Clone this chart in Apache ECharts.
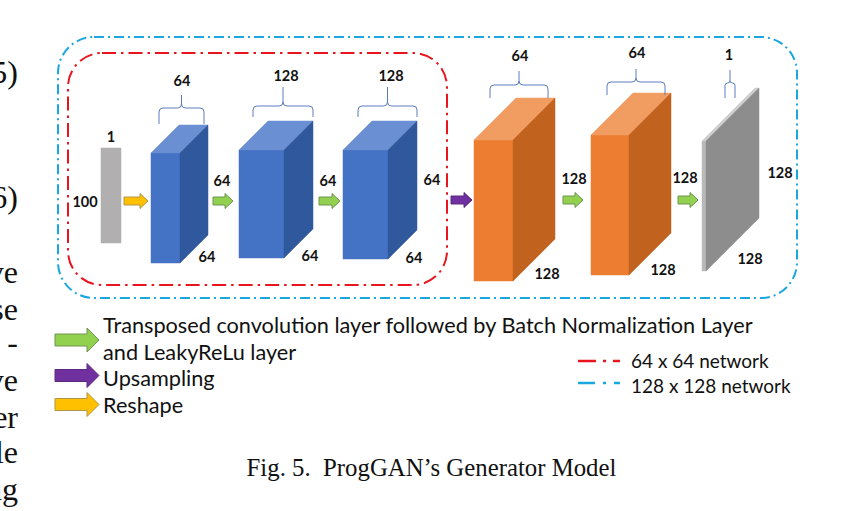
<!DOCTYPE html>
<html><head><meta charset="utf-8">
<script src="https://cdn.jsdelivr.net/npm/echarts@6/dist/echarts.min.js"></script>
<style>html,body{margin:0;padding:0;background:#fff;overflow:hidden}#c{width:855px;height:511px}</style>
</head><body><div id="c"></div>
<script>
// ---------------- content / data ----------------
const layerNames    = ['Input', 'Conv 1', 'Conv 2', 'Conv 3', 'Conv 4', 'Conv 5', 'Output'];
const channelLabels = ['1', '64', '128', '128', '64', '64', '1'];
const sideLabels    = ['100', '64', '64', '64', '128', '128', '128'];
const depthLabels   = ['', '64', '64', '64', '128', '128', '128'];
const blockKind     = ['input', 'blue', 'blue', 'blue', 'orange', 'orange', 'output'];
const arrowTypes    = ['reshape', 'conv', 'conv', 'upsample', 'conv', 'conv'];
const legendLabels  = ['Transposed convolution layer followed by Batch Normalization Layer', 'and LeakyReLu layer', 'Upsampling', 'Reshape'];
const legendArrowTypes = ['conv', 'upsample', 'reshape'];
const networkLabels = ['64 x 64 network', '128 x 128 network'];
const networkTypes  = ['net64', 'net128'];
const captionText   = 'Fig. 5.\u00a0\u00a0ProgGAN\u2019s Generator Model';
const marginText    = ['5)', '6)', 've', 'se', '-', 've', 'er', 'le', 'ng'];

// ---------------- layout (axis units of a 855 x 511 plane) ----------------
const blockX = [101, 151, 239, 343, 474, 591, 702];
const blockY = [148, 153, 150, 150, 140, 135, 141];
const blockW = [20, 29, 45, 45, 39, 38, 4];
const blockH = [95, 110, 108, 109, 141, 140, 130];
const blockD = [0, 28, 29, 29, 42, 42, 53];

const braceX1 = [159, 253, 358, 490, 607, 725];
const braceX2 = [204, 313, 417, 548, 665, 735];
const braceYb = [124, 117, 117, 98, 95, 98];
const braceYm = [108, 106, 106, 85, 82, 83];
const braceYt = [95, 87, 87, 71, 69, 70];

const topLX = [111, 182, 286, 391, 520, 637, 729];
const topLY = [136, 80, 75, 75, 55, 52, 54];
const sideLX = [85, 222, 328, 432, 574, 685, 780];
const sideLY = [201, 180, 180, 179, 178, 177, 172];
const depthLX = [0, 207, 310, 414, 547, 663, 750];
const depthLY = [0, 256, 255, 257, 273, 269, 258];

const arrowX1 = [124, 213, 319, 451, 563, 678];
const arrowX2 = [148, 233, 340, 472, 583, 698];
const arrowY  = [201, 201, 201, 200, 200, 200];

const frameX1 = [68, 58], frameY1 = [53, 37], frameX2 = [447, 797], frameY2 = [285, 298], frameR = [34, 36];
const frameTypes = ['net64', 'net128'];

const legendTextY = [325, 352, 378, 405];
const legendArrowY = [340, 375.5, 404.5];
const networkY = [361, 383];
const networkTextY = [360, 385];
const marginY = [72, 197, 271.5, 308.5, 342, 379.5, 416.5, 451.5, 488.5];

// ---------------- styles ----------------
const palette = {
  input:  { front: '#b1afaf' },
  blue:   { front: '#4472c4', top: '#6a8fd2', side: '#30589c' },
  orange: { front: '#ed7d31', top: '#f19d62', side: '#c1631f' },
  output: { front: '#b9b9b9', top: '#cdcdcd', side: '#8d8d8d' }
};
const arrowStyle = {
  conv:     { fill: '#92d050', stroke: '#6e9650' },
  upsample: { fill: '#7030a0', stroke: '#5a2a80' },
  reshape:  { fill: '#ffc000', stroke: '#b0954a' }
};
const netStyle = {
  net64:  { stroke: '#e8141e', dash: [14, 5, 2.5, 5], legendDash: [18, 7, 3, 7] },
  net128: { stroke: '#1aa7e0', dash: [10, 4, 2, 4], legendDash: [17, 8, 3, 8] }
};
const labelFont = 'bold 14.5px Lato';
const sansFont = 'Lato';

function arrowPoints(api, x1, x2, yc, sh, hh, hl) {
  return [[x1, yc - sh], [x2 - hl, yc - sh], [x2 - hl, yc - hh], [x2, yc], [x2 - hl, yc + hh], [x2 - hl, yc + sh], [x1, yc + sh]]
    .map(p => api.coord(p));
}
function txt(api, text, x, y, font, align, color) {
  const p = api.coord([x, y]);
  return { type: 'text', style: { text: text, x: p[0], y: p[1], font: font, fill: color || '#111', textAlign: align || 'center', textVerticalAlign: 'middle' } };
}

const chart = echarts.init(document.getElementById('c'), null, { renderer: 'svg', width: 855, height: 511 });

const series = [
  { // network frames
    type: 'custom', data: frameTypes.map((t, i) => [frameX1[i], frameY1[i]]),
    renderItem: function (params, api) {
      const i = params.dataIndex, s = netStyle[frameTypes[i]];
      const a = api.coord([frameX1[i], frameY1[i]]), b = api.coord([frameX2[i], frameY2[i]]);
      return { type: 'rect', shape: { x: a[0], y: a[1], width: b[0] - a[0], height: b[1] - a[1], r: frameR[i] },
        style: { fill: 'none', stroke: s.stroke, lineWidth: 2, lineDash: s.dash } };
    }
  },
  { // layer blocks
    type: 'custom', data: layerNames.map((n, i) => [blockX[i], blockY[i]]),
    renderItem: function (params, api) {
      const i = params.dataIndex, c = palette[blockKind[i]];
      const x = blockX[i], y = blockY[i], w = blockW[i], h = blockH[i], d = blockD[i];
      const P = (a, b) => api.coord([a, b]);
      const ch = [{ type: 'polygon', shape: { points: [P(x, y), P(x + w, y), P(x + w, y + h), P(x, y + h)] }, style: { fill: c.front, stroke: c.front, lineWidth: 0.5 } }];
      if (d > 0) {
        ch.push({ type: 'polygon', shape: { points: [P(x, y), P(x + d, y - d), P(x + w + d, y - d), P(x + w, y)] }, style: { fill: c.top, stroke: c.top, lineWidth: 0.5 } });
        ch.push({ type: 'polygon', shape: { points: [P(x + w, y), P(x + w + d, y - d), P(x + w + d, y + h - d), P(x + w, y + h)] }, style: { fill: c.side, stroke: c.side, lineWidth: 0.5 } });
      }
      return { type: 'group', children: ch };
    }
  },
  { // channel braces
    type: 'custom', data: braceX1.map((x, i) => [x, braceYb[i]]),
    renderItem: function (params, api) {
      const i = params.dataIndex;
      const x1 = braceX1[i], x2 = braceX2[i], xc = (x1 + x2) / 2, yb = braceYb[i], ym = braceYm[i], yt = braceYt[i];
      const r = Math.min(4, (x2 - x1) / 4);
      const P = (a, b) => api.coord([a, b]).join(' ');
      const d = 'M' + P(x1, yb) + ' L' + P(x1, ym + r) + ' Q' + P(x1, ym) + ' ' + P(x1 + r, ym) +
        ' L' + P(xc - r, ym) + ' Q' + P(xc, ym) + ' ' + P(xc, ym - r) + ' L' + P(xc, yt) +
        ' M' + P(xc, ym - r) + ' Q' + P(xc, ym) + ' ' + P(xc + r, ym) + ' L' + P(x2 - r, ym) +
        ' Q' + P(x2, ym) + ' ' + P(x2, ym + r) + ' L' + P(x2, yb);
      return { type: 'path', shape: { pathData: d }, style: { fill: 'none', stroke: '#5b7cbf', lineWidth: 1 } };
    }
  },
  { // flow arrows
    type: 'custom', data: arrowTypes.map((t, i) => [arrowX1[i], arrowY[i]]),
    renderItem: function (params, api) {
      const i = params.dataIndex, s = arrowStyle[arrowTypes[i]];
      return { type: 'polygon', shape: { points: arrowPoints(api, arrowX1[i], arrowX2[i], arrowY[i], 4, 7.5, 8) },
        style: { fill: s.fill, stroke: s.stroke, lineWidth: 1 } };
    }
  },
  { // dimension labels
    type: 'custom', data: layerNames.map((n, i) => [topLX[i], topLY[i]]),
    renderItem: function (params, api) {
      const i = params.dataIndex;
      const ch = [txt(api, channelLabels[i], topLX[i], topLY[i], labelFont), txt(api, sideLabels[i], sideLX[i], sideLY[i], labelFont)];
      if (depthLabels[i]) ch.push(txt(api, depthLabels[i], depthLX[i], depthLY[i], labelFont));
      return { type: 'group', children: ch };
    }
  },
  { // legend arrows
    type: 'custom', data: legendArrowTypes.map((t, i) => [55, legendArrowY[i]]),
    renderItem: function (params, api) {
      const i = params.dataIndex, s = arrowStyle[legendArrowTypes[i]];
      return { type: 'polygon', shape: { points: arrowPoints(api, 55, 99, legendArrowY[i], 6, 12, 12) },
        style: { fill: s.fill, stroke: s.stroke, lineWidth: 1 } };
    }
  },
  { // legend texts
    type: 'custom', data: legendLabels.map((t, i) => [103, legendTextY[i]]),
    renderItem: function (params, api) {
      const i = params.dataIndex;
      return txt(api, legendLabels[i], 103, legendTextY[i], '21.7px ' + sansFont, 'left', '#111');
    }
  },
  { // network legend
    type: 'custom', data: networkLabels.map((t, i) => [578, networkY[i]]),
    renderItem: function (params, api) {
      const i = params.dataIndex, s = netStyle[networkTypes[i]];
      const a = api.coord([578, networkY[i]]), b = api.coord([620, networkY[i]]);
      return { type: 'group', children: [
        { type: 'line', shape: { x1: a[0], y1: a[1], x2: b[0], y2: b[1] }, style: { stroke: s.stroke, lineWidth: 2.5, lineDash: s.legendDash } },
        txt(api, networkLabels[i], 631, networkTextY[i], '19px ' + sansFont, 'left', '#111')
      ] };
    }
  },
  { // surrounding page text (neighbouring column, clipped as in the source) and caption
    type: 'custom', data: marginText.map((t, i) => [18, marginY[i]]).concat([[431.5, 467]]),
    renderItem: function (params, api) {
      const i = params.dataIndex;
      if (i < marginText.length) return txt(api, marginText[i], 18, marginY[i], '32px "Liberation Serif"', 'right', '#111');
      return txt(api, captionText, 431.5, 467, '24.8px "Liberation Serif"', 'center', '#111');
    }
  }
].map(s => Object.assign({ coordinateSystem: 'cartesian2d', silent: true, clip: false }, s));

chart.setOption({
  animation: false,
  backgroundColor: '#ffffff',
  grid: { left: 0, right: 0, top: 0, bottom: 0 },
  xAxis: { type: 'value', min: 0, max: 855, show: false },
  yAxis: { type: 'value', min: 0, max: 511, inverse: true, show: false },
  series: series
});
</script>
</body></html>
